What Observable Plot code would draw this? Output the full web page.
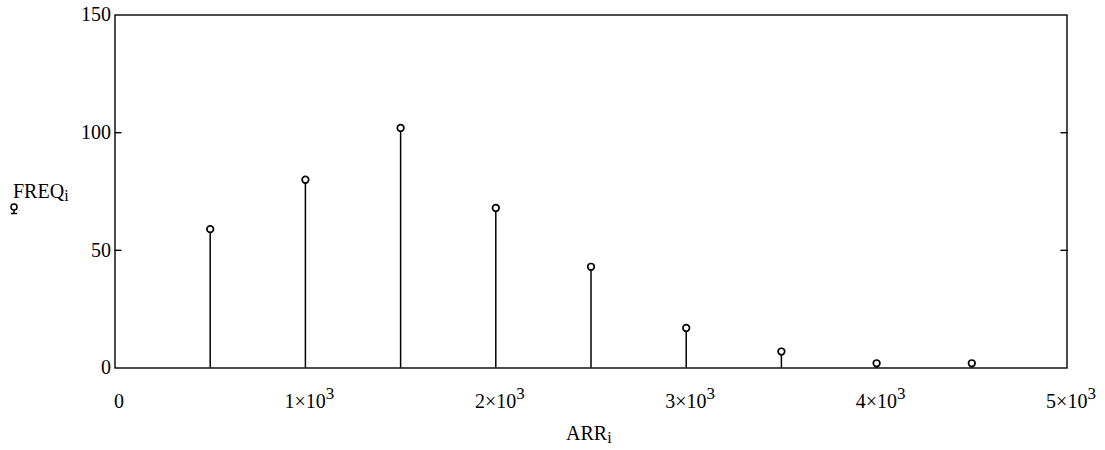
<!DOCTYPE html>
<html>
<head>
<meta charset="utf-8">
<script src="https://cdn.jsdelivr.net/npm/d3@7"></script>
<script src="https://cdn.jsdelivr.net/npm/@observablehq/plot@0.6"></script>
<style>
  html, body { margin: 0; padding: 0; background: #fff; }
  #wrap { position: relative; width: 1105px; height: 450px; font-family: "Liberation Serif", "DejaVu Serif", serif; color: #000; }
  #chart svg, #chart svg text { font-family: "Liberation Serif", "DejaVu Serif", serif !important; }
  .lbl { position: absolute; font-size: 20px; line-height: 1; white-space: nowrap; }
  .lbl sub { font-size: 16px; vertical-align: -3px; line-height: 0; }
  #mk { position: absolute; left: 8px; top: 201px; }
</style>
</head>
<body>
<div id="wrap">
  <div id="chart"></div>
  <div class="lbl" style="left:13px; top:181px;">FREQ<sub>i</sub></div>
  <div class="lbl" style="left:566px; top:423px;">ARR<sub>i</sub></div>
  <svg id="mk" width="14" height="16"><circle cx="6" cy="6" r="3" fill="#fff" stroke="#000" stroke-width="1.5"/><line x1="6" y1="9" x2="6" y2="12" stroke="#000" stroke-width="1.5"/><line x1="3" y1="12.5" x2="9" y2="12.5" stroke="#000" stroke-width="1.5"/></svg>
</div>
<script>
const arr = [500, 1000, 1500, 2000, 2500, 3000, 3500, 4000, 4500];
const freq = [59, 80, 102, 68, 43, 17, 7, 2, 2];
const xTicks = [0, 1000, 2000, 3000, 4000, 5000];
const xTickLabels = ["0", "1×10^3", "2×10^3", "3×10^3", "4×10^3", "5×10^3"];
const yTicks = [0, 50, 100, 150];
const yInnerTicks = [50, 100];

const data = arr.map((a, i) => ({ arr: a, freq: freq[i] }));
const font = "Liberation Serif";

const chart = Plot.plot({
  width: 1105,
  height: 450,
  marginLeft: 114.5,
  marginRight: 38.5,
  marginTop: 14.5,
  marginBottom: 82.5,
  style: { fontFamily: font, fontSize: "20px", color: "#000", background: "#fff" },
  x: { domain: [0, 5000], label: null },
  y: { domain: [0, 150], label: null },
  marks: [
    Plot.frame({ stroke: "#000", strokeWidth: 1.4 }),
    Plot.axisY({ anchor: "left", ticks: yInnerTicks, tickSize: -7, tickFormat: () => "", strokeWidth: 1.4 }),
    Plot.axisY({ anchor: "right", ticks: yInnerTicks, tickSize: -7, tickFormat: () => "", strokeWidth: 1.4 }),
    Plot.axisY({ anchor: "left", ticks: yTicks, tickSize: 0, tickPadding: 4, tickFormat: d => String(d), fontSize: 20, fontFamily: font }),
    Plot.axisX({ anchor: "bottom", ticks: xTicks, tickSize: 0, tickPadding: 26, dx: 4,
      tickFormat: d => xTickLabels[xTicks.indexOf(d)], fontSize: 20, fontFamily: font }),
    Plot.ruleX(data, { x: "arr", y1: 0, y2: "freq", stroke: "#000", strokeWidth: 1.5 }),
    Plot.dot(data, { x: "arr", y: "freq", r: 3.3, fill: "#fff", stroke: "#000", strokeWidth: 1.7 })
  ]
});

// render superscripts for the "×10^3" tick labels as real text tspans
chart.querySelectorAll("text").forEach(t => {
  const s = t.textContent;
  if (s.includes("^")) {
    const [base, exp] = s.split("^");
    t.textContent = "";
    const a = document.createElementNS("http://www.w3.org/2000/svg", "tspan");
    a.textContent = base;
    const b = document.createElementNS("http://www.w3.org/2000/svg", "tspan");
    b.textContent = exp;
    b.setAttribute("dy", "-9");
    b.setAttribute("font-size", "17");
    t.appendChild(a);
    t.appendChild(b);
  }
});

document.getElementById("chart").appendChild(chart);
</script>
</body>
</html>
